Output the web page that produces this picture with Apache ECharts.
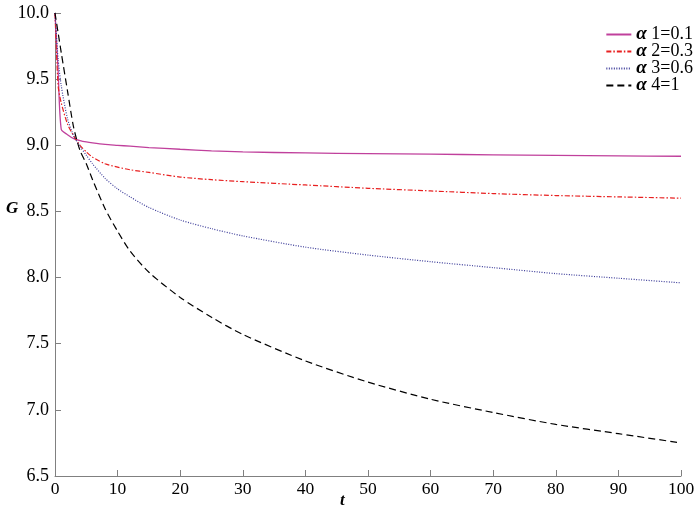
<!DOCTYPE html>
<html><head><meta charset="utf-8">
<script src="https://cdn.jsdelivr.net/npm/echarts@6/dist/echarts.min.js"></script>
<style>html,body{margin:0;padding:0;background:#fff}#c{width:700px;height:513px}</style>
</head><body><div id="c"></div>
<script>
const tValues = [0,0.5,1,2,3,4,5,6,8,10,12,15,20,25,30,40,50,60,70,80,90,100];
const alpha1 = [10,9.56,9.12,9.08,9.05,9.035,9.025,9.018,9.007,9.0,8.993,8.983,8.97,8.958,8.95,8.942,8.937,8.933,8.928,8.924,8.92,8.917];
const alpha2 = [10,9.45,9.32,9.16,9.07,9.0,8.95,8.91,8.86,8.835,8.815,8.795,8.76,8.74,8.725,8.70,8.675,8.655,8.635,8.62,8.61,8.60];
const alpha3 = [10,9.65,9.45,9.2,9.07,8.99,8.925,8.86,8.75,8.67,8.61,8.53,8.435,8.37,8.315,8.23,8.17,8.12,8.075,8.03,7.995,7.96];
const alpha4 = [10,9.85,9.70,9.41,9.13,8.96,8.86,8.74,8.52,8.35,8.20,8.04,7.85,7.70,7.57,7.37,7.21,7.08,6.98,6.89,6.82,6.75];
const seriesNames = ['α 1=0.1','α 2=0.3','α 3=0.6','α 4=1'];
const xTicks = {min:0, max:100, interval:10};
const yTicks = {min:6.5, max:10, interval:0.5};

const serif = '"Liberation Serif", "DejaVu Serif", serif';
function pts(vals){ return tValues.map((t,i)=>[t, vals[i]]); }
const styles = [
  {color:'#c0409c', type:'solid', width:1.3},
  {color:'#e82020', type:[5,2,1.5,2], width:1.2},
  {color:'#3a3a98', type:[1,1.5], width:1.2},
  {color:'#000000', type:[7,4], width:1.2}
];
const data = [alpha1, alpha2, alpha3, alpha4];
const chart = echarts.init(document.getElementById('c'));
chart.setOption({
  animation:false,
  backgroundColor:'#fff',
  grid:{left:55, right:19, top:13, bottom:37, containLabel:false},
  legend:{
    orient:'vertical', right:2, top:20, padding:5,
    itemWidth:25, itemHeight:14, itemGap:-2,
    itemStyle:{opacity:0},
    formatter: n => '{a|α}' + n.slice(1),
    textStyle:{fontFamily:serif, fontSize:18, color:'#000', lineHeight:16,
      rich:{a:{fontFamily:serif, fontSize:19, fontStyle:'italic', fontWeight:'bold', color:'#000', lineHeight:16}}},
    data: seriesNames
  },
  xAxis:{
    type:'value', min:xTicks.min, max:xTicks.max, interval:xTicks.interval,
    axisLine:{lineStyle:{color:'#808080', width:1}},
    axisTick:{inside:true, length:6, lineStyle:{color:'#808080'}},
    axisLabel:{fontFamily:serif, fontSize:17.5, color:'#000', margin:4},
    splitLine:{show:false}
  },
  yAxis:{
    type:'value', min:yTicks.min, max:yTicks.max, interval:yTicks.interval,
    axisLine:{show:true, lineStyle:{color:'#808080', width:1}},
    axisTick:{show:true, inside:true, length:6, lineStyle:{color:'#808080'}},
    axisLabel:{fontFamily:serif, fontSize:18, color:'#000', margin:6, formatter:v=>v.toFixed(1)},
    splitLine:{show:false}
  },
  graphic:[
    {type:'text', left:6, top:200, style:{text:'G', font:'italic bold 17px '+serif, fill:'#000'}},
    {type:'text', left:340, top:492, style:{text:'t', font:'italic bold 17px '+serif, fill:'#000'}}
  ],
  series: seriesNames.map((n,i)=>({
    name:n, type:'line', data:pts(data[i]), symbol:'none', smooth:0.25,
    lineStyle:styles[i], itemStyle:{color:styles[i].color}
  }))
});
</script></body></html>
